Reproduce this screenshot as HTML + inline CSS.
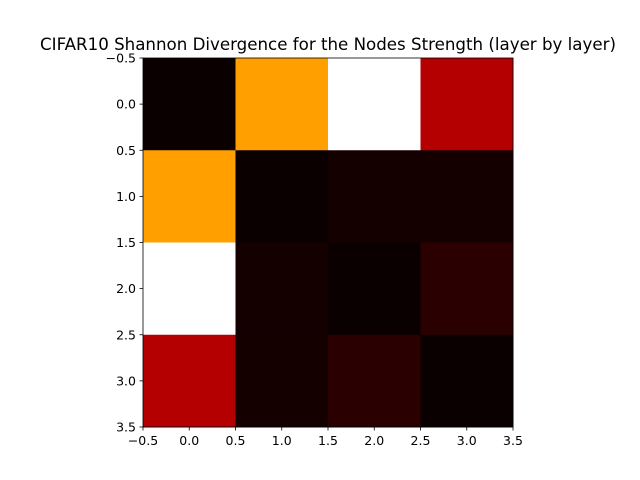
<!DOCTYPE html>
<html><head><meta charset="utf-8"><style>
body{margin:0;background:#fff;}
svg{display:block;font-family:"DejaVu Sans","Liberation Sans",sans-serif;}
</style></head><body>
<svg id="chart" width="640" height="480" viewBox="0 0 640 480">
<rect width="640" height="480" fill="#fff"/>
<text x="328" y="50" font-size="16.67" text-anchor="middle">CIFAR10 Shannon Divergence for the Nodes Strength (layer by layer)</text>
<g id="cells"></g>
<g id="axes"></g>
</svg>
<script>
const rowLabels = [0, 1, 2, 3];
const colLabels = [0, 1, 2, 3];
const values = [
  [0.0, 0.604, 1.0, 0.253],
  [0.604, 0.0, 0.0155, 0.0155],
  [1.0, 0.0155, 0.0, 0.047],
  [0.253, 0.0155, 0.047, 0.0]
];
const tickLabels = ["-0.5","0.0","0.5","1.0","1.5","2.0","2.5","3.0","3.5"];

const X0=143, X1=513, Y0=58, Y1=427;
const xs = v => X0 + (v + 0.5) / 4 * (X1 - X0);
const ys = v => Y0 + (v + 0.5) / 4 * (Y1 - Y0);
function hot(v){
  const c=x=>Math.max(0,Math.min(1,x));
  const r = v<0.365079 ? 0.0416+(1-0.0416)*v/0.365079 : 1;
  const g = c((v-0.365079)/(0.746032-0.365079));
  const b = c((v-0.746032)/(1-0.746032));
  return `rgb(${Math.round(r*255)},${Math.round(g*255)},${Math.round(b*255)})`;
}
const NS="http://www.w3.org/2000/svg";
const cells=document.getElementById('cells');
values.forEach((row,i)=>row.forEach((v,j)=>{
  const r=document.createElementNS(NS,'rect');
  r.setAttribute('x',xs(colLabels[j]-0.5));
  r.setAttribute('y',ys(rowLabels[i]-0.5));
  r.setAttribute('width',xs(colLabels[j]+0.5)-xs(colLabels[j]-0.5)+0.5);
  r.setAttribute('height',ys(rowLabels[i]+0.5)-ys(rowLabels[i]-0.5)+0.5);
  r.setAttribute('fill',hot(v));
  
  
  cells.appendChild(r);
}));
const ax=document.getElementById('axes');
let h=`<rect x="${X0}" y="${Y0}" width="${X1-X0}" height="${Y1-Y0}" fill="none" stroke="#000" stroke-width="0.8"/>`;
tickLabels.forEach(t=>{
  const v=parseFloat(t), x=xs(v), y=ys(v);
  h+=`<line x1="${x}" y1="${Y1}" x2="${x}" y2="${Y1+3.5}" stroke="#000" stroke-width="0.8"/>`;
  h+=`<text x="${x}" y="${Y1+18}" font-size="12.5" text-anchor="middle">${t.replace('-','−')}</text>`;
  h+=`<line x1="${X0}" y1="${y}" x2="${X0-3.5}" y2="${y}" stroke="#000" stroke-width="0.8"/>`;
  h+=`<text x="${X0-7}" y="${y+4.5}" font-size="12.5" text-anchor="end">${t.replace('-','−')}</text>`;
});
ax.innerHTML=h;


</script>
</body></html>
